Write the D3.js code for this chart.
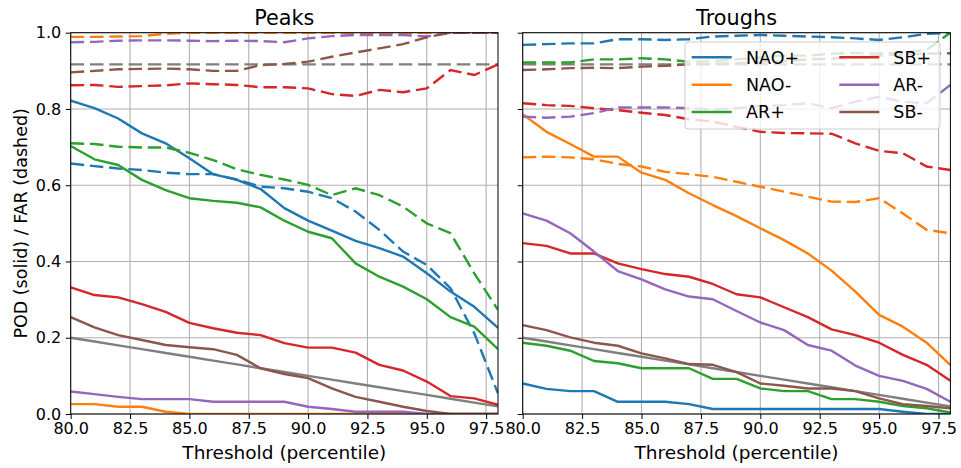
<!DOCTYPE html>
<html><head><meta charset="utf-8">
<script src="https://cdn.jsdelivr.net/npm/d3@7"></script>
<style>body{margin:0;background:#fff}svg{display:block}text{font-family:"DejaVu Sans",sans-serif}</style>
</head><body><svg id="c" width="961" height="468"></svg>
<script>
const thresholds = [80,81,82,83,84,85,86,87,88,89,90,91,92,93,94,95,96,97,98];
const categories = ["NAO+","NAO-","AR+","SB+","AR-","SB-"];
const panelTitles = ["Peaks","Troughs"];
const xTicks = [80,82.5,85,87.5,90,92.5,95,97.5];
const yTicks = [0,0.2,0.4,0.6,0.8,1.0];

// Peaks: POD (solid)
const peaksPOD_NAOpos = [0.822,0.802,0.775,0.736,0.710,0.671,0.629,0.614,0.590,0.540,0.507,0.481,0.454,0.435,0.413,0.369,0.321,0.281,0.226];
const peaksPOD_NAOneg = [0.026,0.026,0.019,0.019,0.006,0,0,0,0,0,0,0,0,0,0,0,0,0,0];
const peaksPOD_ARpos  = [0.703,0.668,0.653,0.614,0.587,0.566,0.559,0.554,0.542,0.507,0.478,0.461,0.395,0.360,0.334,0.301,0.254,0.229,0.170];
const peaksPOD_SBpos  = [0.332,0.312,0.306,0.288,0.268,0.239,0.225,0.213,0.207,0.186,0.174,0.174,0.161,0.129,0.114,0.085,0.047,0.041,0.024];
const peaksPOD_ARneg  = [0.059,0.052,0.045,0.039,0.039,0.039,0.032,0.032,0.032,0.032,0.019,0.013,0.006,0.006,0.006,0,0,0,0];
const peaksPOD_SBneg  = [0.254,0.227,0.207,0.194,0.181,0.175,0.170,0.155,0.120,0.105,0.094,0.067,0.045,0.032,0.019,0.008,0,0,0];
// Peaks: FAR (dashed)
const peaksFAR_NAOpos = [0.657,0.650,0.644,0.640,0.633,0.629,0.629,0.615,0.596,0.592,0.583,0.566,0.531,0.483,0.426,0.391,0.330,0.212,0.054];
const peaksFAR_NAOneg = [0.989,0.989,0.990,0.991,0.997,1,1,1,1,1,1,1,1,1,1,1,1,1,1];
const peaksFAR_ARpos  = [0.710,0.708,0.701,0.699,0.699,0.685,0.666,0.642,0.627,0.615,0.601,0.574,0.592,0.574,0.544,0.500,0.474,0.369,0.273];
const peaksFAR_SBpos  = [0.862,0.863,0.858,0.860,0.862,0.867,0.865,0.863,0.857,0.857,0.854,0.839,0.834,0.850,0.844,0.854,0.902,0.889,0.917];
const peaksFAR_ARneg  = [0.975,0.976,0.979,0.980,0.980,0.979,0.978,0.979,0.978,0.975,0.985,0.991,0.994,0.994,0.994,0.990,1,1,1];
const peaksFAR_SBneg  = [0.896,0.900,0.904,0.905,0.906,0.904,0.900,0.900,0.915,0.918,0.924,0.937,0.948,0.959,0.970,0.988,1,1,1];
// Troughs: POD (solid)
const troughsPOD_NAOpos = [0.080,0.066,0.060,0.060,0.032,0.032,0.032,0.026,0.013,0.013,0.013,0.013,0.013,0.013,0.013,0.013,0.006,0,0];
const troughsPOD_NAOneg = [0.786,0.740,0.708,0.675,0.675,0.633,0.614,0.579,0.548,0.519,0.487,0.456,0.421,0.376,0.321,0.260,0.229,0.187,0.128];
const troughsPOD_ARpos  = [0.187,0.179,0.166,0.139,0.133,0.120,0.120,0.120,0.092,0.092,0.067,0.060,0.060,0.039,0.039,0.032,0.021,0.015,0.004];
const troughsPOD_SBpos  = [0.448,0.441,0.421,0.421,0.395,0.380,0.367,0.360,0.341,0.314,0.306,0.280,0.254,0.222,0.207,0.187,0.155,0.129,0.087];
const troughsPOD_ARneg  = [0.526,0.507,0.474,0.426,0.375,0.353,0.327,0.308,0.301,0.270,0.240,0.220,0.181,0.166,0.127,0.100,0.087,0.066,0.032];
const troughsPOD_SBneg  = [0.233,0.220,0.201,0.187,0.179,0.159,0.146,0.131,0.129,0.110,0.080,0.074,0.067,0.067,0.060,0.041,0.026,0.021,0.015];
// Troughs: FAR (dashed)
const troughsFAR_NAOpos = [0.968,0.970,0.972,0.972,0.983,0.983,0.981,0.983,0.990,0.992,0.994,0.992,0.990,0.988,0.985,0.981,0.988,0.997,1.0];
const troughsFAR_NAOneg = [0.673,0.675,0.673,0.668,0.656,0.649,0.635,0.629,0.622,0.609,0.596,0.583,0.570,0.557,0.556,0.566,0.526,0.483,0.474];
const troughsFAR_ARpos  = [0.922,0.922,0.922,0.930,0.930,0.933,0.930,0.924,0.925,0.930,0.935,0.940,0.940,0.945,0.947,0.945,0.948,0.955,1.0];
const troughsFAR_SBpos  = [0.815,0.810,0.808,0.802,0.797,0.790,0.784,0.773,0.767,0.753,0.740,0.737,0.736,0.735,0.710,0.690,0.684,0.649,0.640];
const troughsFAR_ARneg  = [0.780,0.777,0.780,0.789,0.804,0.804,0.804,0.802,0.799,0.802,0.808,0.810,0.815,0.802,0.819,0.832,0.819,0.815,0.863];
const troughsFAR_SBneg  = [0.902,0.904,0.907,0.908,0.907,0.911,0.913,0.917,0.918,0.920,0.922,0.925,0.930,0.932,0.935,0.940,0.943,0.945,0.946];
// Reference (grey) lines
const referencePOD = [0.20,0.19,0.18,0.17,0.16,0.15,0.14,0.13,0.12,0.11,0.10,0.09,0.08,0.07,0.06,0.05,0.04,0.03,0.02];
const referenceFAR = [0.917,0.917,0.917,0.917,0.917,0.917,0.917,0.917,0.917,0.917,0.917,0.917,0.917,0.917,0.917,0.917,0.917,0.917,0.917];

const colors = ["#1f77b4","#ff7f0e","#2ca02c","#d62728","#9467bd","#8c564b"];
const grey = "#7f7f7f";

const panelData = [
  {pod:[peaksPOD_NAOpos,peaksPOD_NAOneg,peaksPOD_ARpos,peaksPOD_SBpos,peaksPOD_ARneg,peaksPOD_SBneg],
   far:[peaksFAR_NAOpos,peaksFAR_NAOneg,peaksFAR_ARpos,peaksFAR_SBpos,peaksFAR_ARneg,peaksFAR_SBneg]},
  {pod:[troughsPOD_NAOpos,troughsPOD_NAOneg,troughsPOD_ARpos,troughsPOD_SBpos,troughsPOD_ARneg,troughsPOD_SBneg],
   far:[troughsFAR_NAOpos,troughsFAR_NAOneg,troughsFAR_ARpos,troughsFAR_SBpos,troughsFAR_ARneg,troughsFAR_SBneg]}
];

const svg = d3.select("#c");
const plotTop = 32.7, plotBottom = 414;
const panelX = [[70.7,498],[522.7,950.4]];
const y = d3.scaleLinear().domain([0,1]).range([plotBottom, plotTop]);
const LW = 2.4, DASH = "13.5,5.8";
const TICK_FS = "16px", LABEL_FS = "18.5px";

panelX.forEach((px, pi) => {
  const x = d3.scaleLinear().domain([80,98]).range(px);
  const g = svg.append("g");
  const clipId = "clip"+pi;
  svg.append("clipPath").attr("id", clipId).append("rect")
    .attr("x", px[0]).attr("y", plotTop).attr("width", px[1]-px[0]).attr("height", plotBottom-plotTop);

  // grid
  g.append("g").selectAll("line").data(xTicks).join("line")
    .attr("x1", d=>x(d)).attr("x2", d=>x(d)).attr("y1", plotTop).attr("y2", plotBottom)
    .attr("stroke","#b0b0b0").attr("stroke-width",1.1);
  g.append("g").selectAll("line").data(yTicks).join("line")
    .attr("x1", px[0]).attr("x2", px[1]).attr("y1", d=>y(d)).attr("y2", d=>y(d))
    .attr("stroke","#b0b0b0").attr("stroke-width",1.1);

  const lines = g.append("g").attr("clip-path", `url(#${clipId})`);
  const line = d3.line().x((d,i)=>x(thresholds[i])).y(d=>y(d));

  lines.append("path").attr("d", line(referencePOD)).attr("fill","none")
    .attr("stroke",grey).attr("stroke-width",LW);
  lines.append("path").attr("d", line(referenceFAR)).attr("fill","none")
    .attr("stroke",grey).attr("stroke-width",LW).attr("stroke-dasharray",DASH);

  const pd = panelData[pi];
  categories.forEach((c, ci) => {
    lines.append("path").attr("d", line(pd.pod[ci])).attr("fill","none")
      .attr("stroke",colors[ci]).attr("stroke-width",LW).attr("stroke-linejoin","round");
    lines.append("path").attr("d", line(pd.far[ci])).attr("fill","none")
      .attr("stroke",colors[ci]).attr("stroke-width",LW).attr("stroke-dasharray",DASH);
  });

  // axes
  const xa = d3.axisBottom(x).tickValues(xTicks).tickFormat(d3.format(".1f")).tickSize(5).tickPadding(4);
  const gx = g.append("g").attr("transform",`translate(0,${plotBottom})`).call(xa);
  gx.select(".domain").remove();
  gx.selectAll("text").attr("font-size",TICK_FS).attr("font-family","DejaVu Sans").attr("fill","#000");
  gx.selectAll("line").attr("stroke","#000").attr("stroke-width",1);

  const ya = d3.axisLeft(y).tickValues(yTicks).tickFormat(pi===0 ? d3.format(".1f") : ()=>"").tickSize(5).tickPadding(4.5);
  const gy = g.append("g").attr("transform",`translate(${px[0]},0)`).call(ya);
  gy.select(".domain").remove();
  gy.selectAll("text").attr("font-size",TICK_FS).attr("font-family","DejaVu Sans").attr("fill","#000");
  gy.selectAll("line").attr("stroke","#000").attr("stroke-width",1);

  // spines
  g.append("rect").attr("x",px[0]).attr("y",plotTop).attr("width",px[1]-px[0]).attr("height",plotBottom-plotTop)
    .attr("fill","none").attr("stroke","#000").attr("stroke-width",1);

  // title
  g.append("text").attr("x",(px[0]+px[1])/2).attr("y",25).attr("text-anchor","middle")
    .attr("font-size","20.8px").text(panelTitles[pi]);
  // x label
  g.append("text").attr("x",(px[0]+px[1])/2).attr("y",459).attr("text-anchor","middle")
    .attr("font-size",LABEL_FS).text("Threshold (percentile)");
});

// y label
svg.append("text").attr("transform",`translate(27,${(plotTop+plotBottom)/2}) rotate(-90)`)
  .attr("text-anchor","middle").attr("font-size","17.5px").text("POD (solid) / FAR (dashed)");

// legend
const lg = svg.append("g");
lg.append("rect").attr("x",685).attr("y",42).attr("width",255).attr("height",87).attr("rx",3)
  .attr("fill","#fff").attr("fill-opacity",0.8).attr("stroke","#cccccc").attr("stroke-width",1);
const rowsY = [57.3,84.7,112];
categories.forEach((c, ci) => {
  const col = Math.floor(ci/3), row = ci%3;
  const lx = col===0 ? 691.7 : 839.3;
  const tx = col===0 ? 746 : 893.3;
  lg.append("line").attr("x1",lx).attr("x2",lx+40).attr("y1",rowsY[row]).attr("y2",rowsY[row])
    .attr("stroke",colors[ci]).attr("stroke-width",LW);
  lg.append("text").attr("x",tx).attr("y",rowsY[row]).attr("dy","0.36em")
    .attr("font-size","17.5px").text(c);
});
</script></body></html>
